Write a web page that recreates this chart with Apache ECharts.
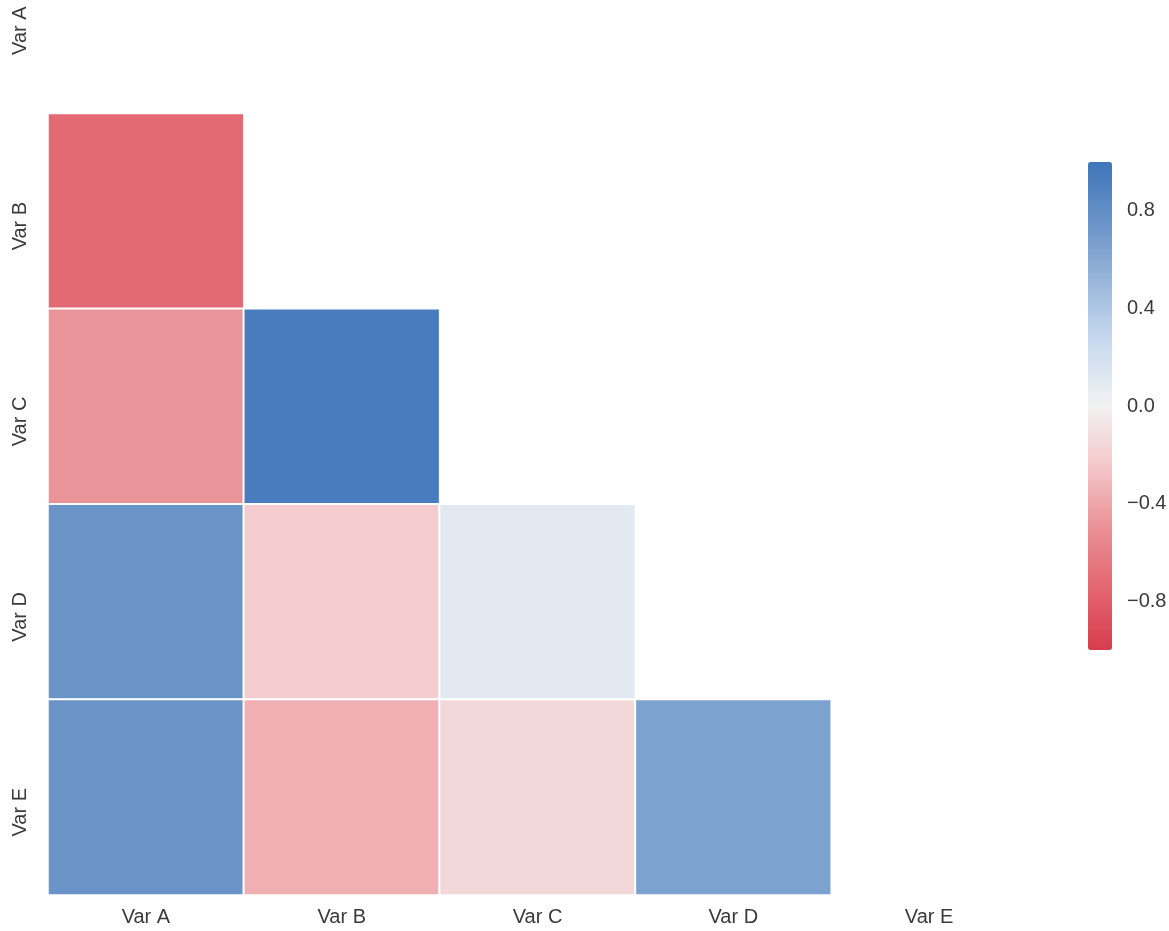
<!DOCTYPE html>
<html>
<head>
<meta charset="utf-8">
<script src="https://cdn.jsdelivr.net/npm/echarts@6/dist/echarts.min.js"></script>
<style>
  html, body { margin: 0; padding: 0; background: #fff; }
  #corr-heatmap { width: 1169px; height: 931px; }
</style>
</head>
<body>
<div id="corr-heatmap"></div>
<script>
// переменные
const variables = ['Var A', 'Var B', 'Var C', 'Var D', 'Var E'];

// нижний треугольник корреляций (диагональ и верх скрыты)
const corrVarB = [-0.73];
const corrVarC = [-0.49, 0.95];
const corrVarD = [0.75, -0.22, 0.1];
const corrVarE = [0.75, -0.36, -0.15, 0.65];

// подписи шкалы цвета
const colorbarTicks = [-0.8, -0.4, 0.0, 0.4, 0.8];

// палитра: красный -> светло-серый -> синий
const paletteStops = [
  '#d83d4c', '#e2656f', '#ea9196', '#f4c6c9', '#f2f2f2',
  '#cbdbf0', '#9bb8dc', '#6a93c8', '#3f76bb'
];

function renderCorrHeatmap() {
  const chart = echarts.init(document.getElementById('corr-heatmap'));

  const lowerRows = [[], corrVarB, corrVarC, corrVarD, corrVarE];
  const cells = [];
  lowerRows.forEach((row, y) => {
    row.forEach((v, x) => cells.push([x, y, v]));
  });

  const textColor = '#3a3a3a';
  const font = 'Liberation Sans, Arial, sans-serif';

  chart.setOption({
    backgroundColor: '#fff',
    grid: [
      { left: 48, top: -82, width: 979, height: 977, outerBoundsMode: 'none', containLabel: false },
      { left: 1088, top: 162, width: 24, height: 488, outerBoundsMode: 'none', containLabel: false }
    ],
    xAxis: [
      {
        type: 'category',
        data: variables,
        gridIndex: 0,
        axisLine: { show: false },
        axisTick: { show: false },
        splitArea: { show: false },
        axisLabel: { color: textColor, fontSize: 20, fontFamily: font, margin: 12 }
      },
      { type: 'value', gridIndex: 1, show: false, min: 0, max: 1 }
    ],
    yAxis: [
      {
        type: 'category',
        data: variables,
        inverse: true,
        gridIndex: 0,
        axisLine: { show: false },
        axisTick: { show: false },
        axisLabel: {
          color: textColor, fontSize: 20, fontFamily: font,
          rotate: 90, margin: 18,
          padding: [0, 30, 0, 0]
        }
      },
      {
        type: 'value',
        gridIndex: 1,
        position: 'right',
        min: -1,
        max: 1,
        axisLine: { show: false },
        axisTick: { show: false },
        splitLine: { show: false },
        axisLabel: {
          customValues: colorbarTicks,
          color: textColor, fontSize: 20, fontFamily: font, margin: 15,
          formatter: v => (v < 0 ? '\u2212' : '') + Math.abs(v).toFixed(1)
        }
      }
    ],
    visualMap: {
      type: 'continuous',
      min: -1,
      max: 1,
      left: 1088,
      top: 162,
      padding: 0,
      itemWidth: 24,
      itemHeight: 488,
      calculable: false,
      showLabel: false,
      text: null,
      seriesIndex: 0,
      inRange: { color: paletteStops }
    },
    series: [{
      type: 'heatmap',
      xAxisIndex: 0,
      yAxisIndex: 0,
      data: cells,
      itemStyle: { borderColor: '#fff', borderWidth: 2 },
      emphasis: { disabled: true }
    }]
  });

  window.addEventListener('resize', () => chart.resize());
}

document.addEventListener('DOMContentLoaded', () => {
  renderCorrHeatmap();
});
</script>
</body>
</html>
